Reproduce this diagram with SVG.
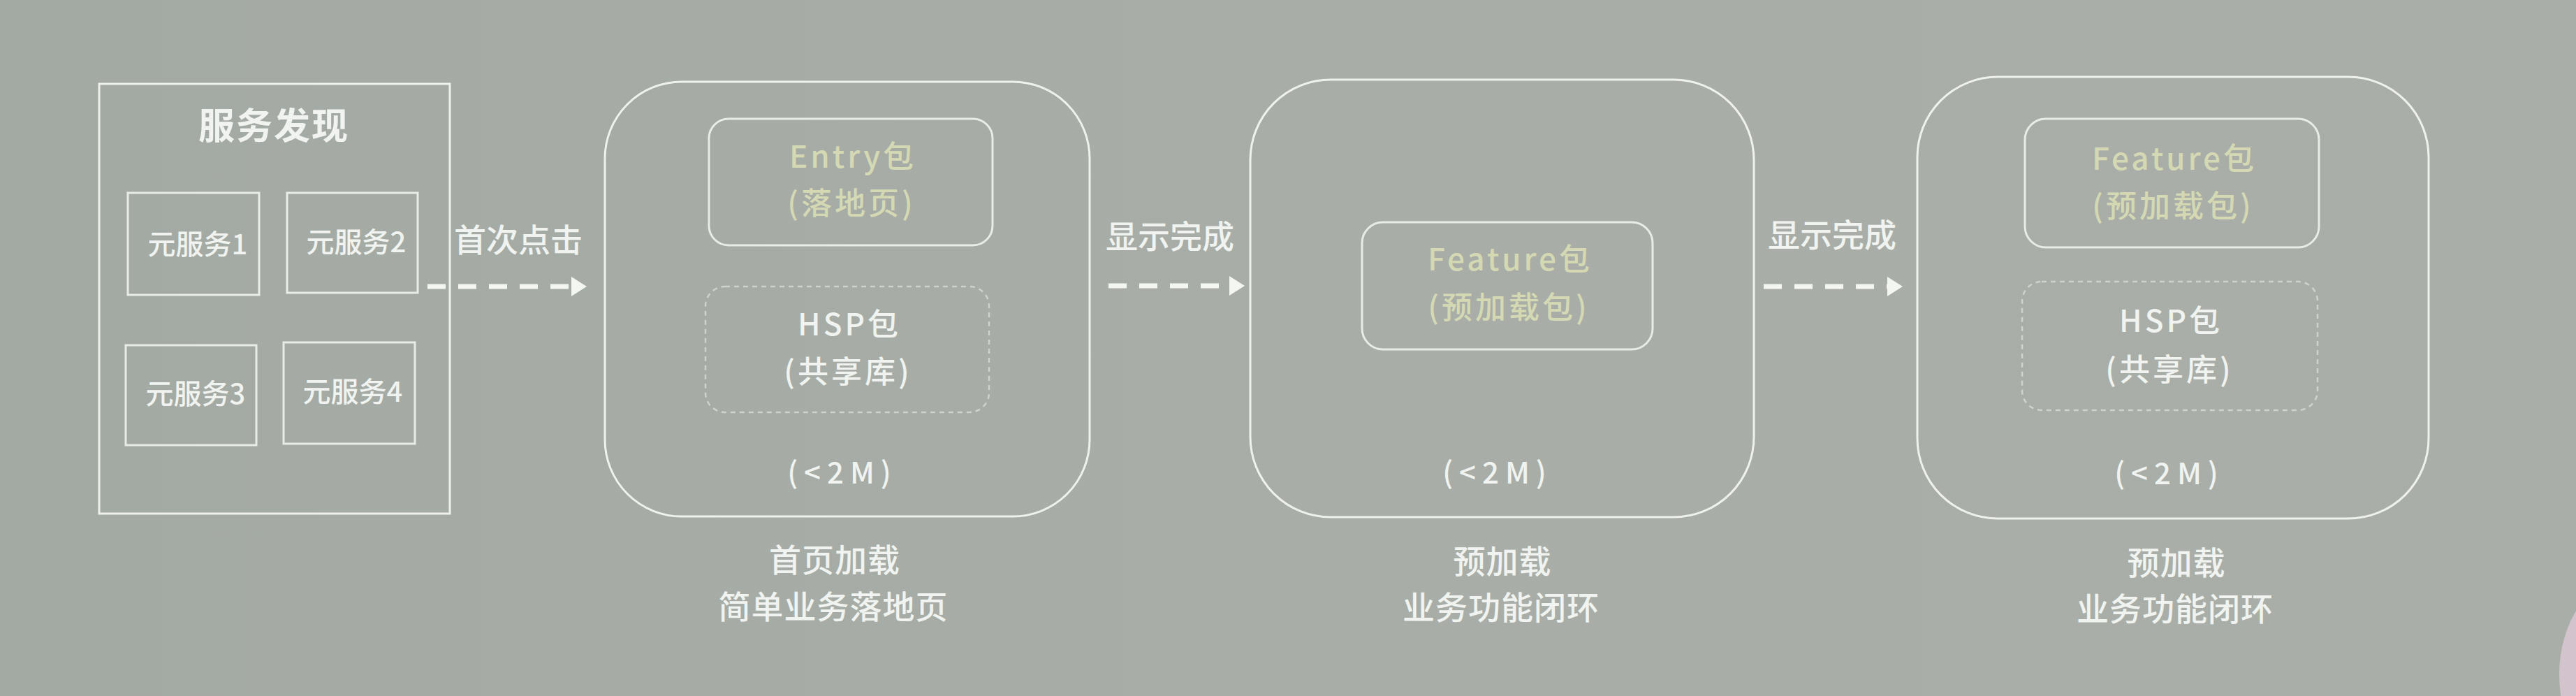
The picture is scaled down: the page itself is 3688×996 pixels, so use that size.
<svg xmlns="http://www.w3.org/2000/svg" width="3688" height="996" viewBox="0 0 3688 996">
  <defs>
    <linearGradient id="bg" x1="0" y1="0" x2="1" y2="0">
      <stop offset="0" stop-color="#a3aaa3"/>
      <stop offset="0.5" stop-color="#a8aea7"/>
      <stop offset="1" stop-color="#a9afa8"/>
    </linearGradient>
    <marker id="ah" markerUnits="userSpaceOnUse" markerWidth="22" markerHeight="28" viewBox="0 0 22 28" refX="0" refY="14" orient="auto">
      <path d="M0,0 L22,14 L0,28 Z" fill="#f4f6f2"/>
    </marker>
    <style>
      .frame { fill: none; stroke: #eef1ec; stroke-width: 3; }
      .solid { fill: none; stroke: #e8ece6; stroke-width: 3; }
      .dash { fill: none; stroke: #cdd3cb; stroke-width: 2.5; stroke-dasharray: 7 6; }
      .t { font-family: "Noto Sans CJK SC", "Noto Sans", sans-serif; font-weight: 500; fill: #f0f3ef; text-anchor: middle; }
      .big { font-size: 52px; letter-spacing: 2px; font-weight: 700; }
      .svc { font-size: 40px; }
      .lbl { font-size: 46px; }
      .pkg { font-size: 44px; letter-spacing: 4px; }
      .yel { fill: #d5d9b3; }
      .size { font-size: 42px; letter-spacing: 9px; }
      .cap { font-size: 46px; letter-spacing: 1px; }
      .conn { fill: none; stroke: #f4f6f2; stroke-width: 7; stroke-dasharray: 26 18; marker-end: url(#ah); }
    </style>
  </defs>

  <rect width="3688" height="996" fill="url(#bg)"/>
  <ellipse cx="3762" cy="965" rx="98" ry="138" fill="#d3c3cd"/>

  <g id="service-discovery">
    <rect class="frame" x="142" y="120" width="502" height="615"/>
    <text class="t big" x="392" y="199">服务发现</text>
  </g>
  <g id="svc1">
    <rect class="solid" x="183" y="276" width="188" height="146"/>
    <text class="t svc" x="283" y="364">元服务1</text>
  </g>
  <g id="svc2">
    <rect class="solid" x="411" y="276" width="187" height="143"/>
    <text class="t svc" x="510" y="361">元服务2</text>
  </g>
  <g id="svc3">
    <rect class="solid" x="180" y="494" width="187" height="143"/>
    <text class="t svc" x="280" y="578">元服务3</text>
  </g>
  <g id="svc4">
    <rect class="solid" x="406" y="490" width="188" height="145"/>
    <text class="t svc" x="505" y="575">元服务4</text>
  </g>

  <g id="stage1">
    <rect class="frame" x="866" y="117" width="694" height="622" rx="110"/>
    <text class="t size" x="1206" y="692">(&lt;2M)</text>
    <text class="t cap" x="1195" y="818">首页加载</text>
    <text class="t cap" x="1193" y="885">简单业务落地页</text>
  </g>
  <g id="entry-pkg">
    <rect class="solid" x="1015" y="170" width="406" height="181" rx="28"/>
    <text class="t pkg yel" x="1221" y="240">Entry包</text>
    <text class="t pkg yel" x="1219" y="307">(落地页)</text>
  </g>
  <g id="hsp-pkg-1">
    <rect class="dash" x="1010" y="410" width="406" height="180" rx="28"/>
    <text class="t pkg" x="1216" y="480">HSP包</text>
    <text class="t pkg" x="1214" y="548">(共享库)</text>
  </g>

  <g id="stage2">
    <rect class="frame" x="1790" y="114" width="721" height="626" rx="115"/>
    <text class="t size" x="2144" y="692">(&lt;2M)</text>
    <text class="t cap" x="2151" y="820">预加载</text>
    <text class="t cap" x="2149" y="886">业务功能闭环</text>
  </g>
  <g id="feature-pkg-1">
    <rect class="solid" x="1950" y="318" width="416" height="182" rx="30"/>
    <text class="t pkg yel" x="2162" y="387">Feature包</text>
    <text class="t pkg yel" x="2160" y="456">(预加载包)</text>
  </g>

  <g id="stage3">
    <rect class="frame" x="2745" y="110" width="732" height="632" rx="115"/>
    <text class="t size" x="3106" y="693">(&lt;2M)</text>
    <text class="t cap" x="3116" y="822">预加载</text>
    <text class="t cap" x="3114" y="888">业务功能闭环</text>
  </g>
  <g id="feature-pkg-2">
    <rect class="solid" x="2899" y="170" width="421" height="184" rx="30"/>
    <text class="t pkg yel" x="3113" y="243">Feature包</text>
    <text class="t pkg yel" x="3111" y="311">(预加载包)</text>
  </g>
  <g id="hsp-pkg-2">
    <rect class="dash" x="2895" y="403" width="423" height="184" rx="28"/>
    <text class="t pkg" x="3108" y="475">HSP包</text>
    <text class="t pkg" x="3106" y="545">(共享库)</text>
  </g>

  <g id="connectors">
    <line class="conn" x1="612" y1="410" x2="818" y2="410"/>
    <text class="t lbl" x="742" y="360">首次点击</text>
    <line class="conn" x1="1587" y1="409" x2="1760" y2="409"/>
    <text class="t lbl" x="1675" y="355">显示完成</text>
    <line class="conn" x1="2525" y1="410" x2="2702" y2="410"/>
    <text class="t lbl" x="2623" y="353">显示完成</text>
  </g>
</svg>
